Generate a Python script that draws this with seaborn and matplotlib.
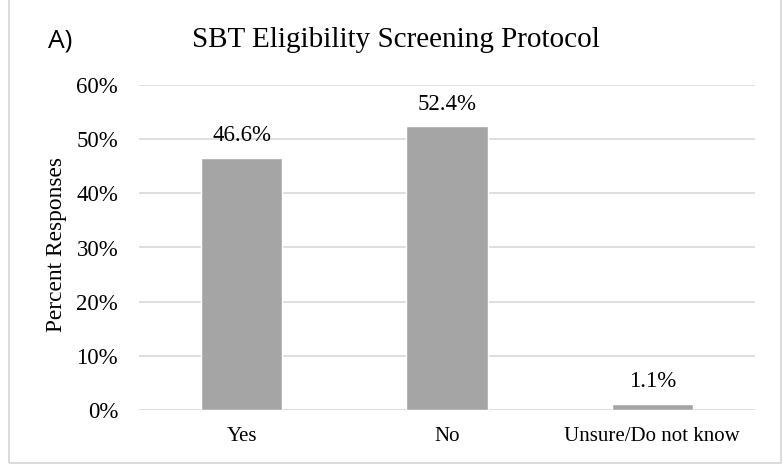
import matplotlib
matplotlib.use("Agg")
import matplotlib.pyplot as plt
import seaborn as sns
import pandas as pd
from matplotlib.patches import Rectangle

categories = ["Yes", "No", "Unsure/Do not know"]
values = [0.466, 0.524, 0.011]
value_labels = ["46.6%", "52.4%", "1.1%"]
yticks = [0.0, 0.1, 0.2, 0.3, 0.4, 0.5, 0.6]
ytick_labels = ["0%", "10%", "20%", "30%", "40%", "50%", "60%"]
title = "SBT Eligibility Screening Protocol"
panel = "A)"
ylabel = "Percent Responses"

sns.set_theme(style="white")
plt.rcParams["font.family"] = ["Liberation Serif", "DejaVu Serif"]

W, H = 783, 465
fig = plt.figure(figsize=(W / 100, H / 100), dpi=100)
ax = fig.add_axes([139 / W, 1 - 410 / H, (755 - 139) / W, (410 - 85) / H])

df = pd.DataFrame({"cat": categories, "val": values})
sns.barplot(data=df, x="cat", y="val", color="#a5a5a5", width=0.395,
            saturation=1, ax=ax, zorder=3)

ax.set_ylim(0, 0.6)
ax.set_xlim(-0.5, 2.5)
ax.set_yticks(yticks)
ax.set_yticklabels(ytick_labels, fontsize=16.5, color="#000000")
ax.tick_params(axis="y", length=0, pad=15)
ax.tick_params(axis="x", length=0, pad=12, labelsize=15, labelcolor="#000000")
ax.set_xlabel("")
ax.set_ylabel(ylabel, fontsize=16.8, color="#000000")
ax.yaxis.set_label_coords(-0.134, 0.508)
ax.yaxis.label.set_va("center")

ax.grid(axis="y", color="#d9d9d9", linewidth=1.2, zorder=0)
ax.set_axisbelow(True)
for s in ax.spines.values():
    s.set_visible(False)

for i, (v, lab) in enumerate(zip(values, value_labels)):
    ax.annotate(lab, (i, v), xytext=(0, 12), textcoords="offset points",
                ha="center", va="baseline", fontsize=16.5, color="#000000")

fig.text(396 / W, 1 - 47 / H, title, ha="center", va="baseline",
         fontsize=21, color="#000000")
fig.text(48 / W, 1 - 48 / H, panel, ha="left", va="baseline",
         fontsize=19, color="#000000", family=["Open Sans", "DejaVu Sans"])

fig.patches.append(Rectangle((9 / W, 1 - 463 / H), (781 - 9) / W, 463 / H + 0.01,
                             transform=fig.transFigure, fill=False,
                             edgecolor="#d9d9d9", linewidth=1.3))

fig.savefig("out.png", dpi=100, facecolor="white")
